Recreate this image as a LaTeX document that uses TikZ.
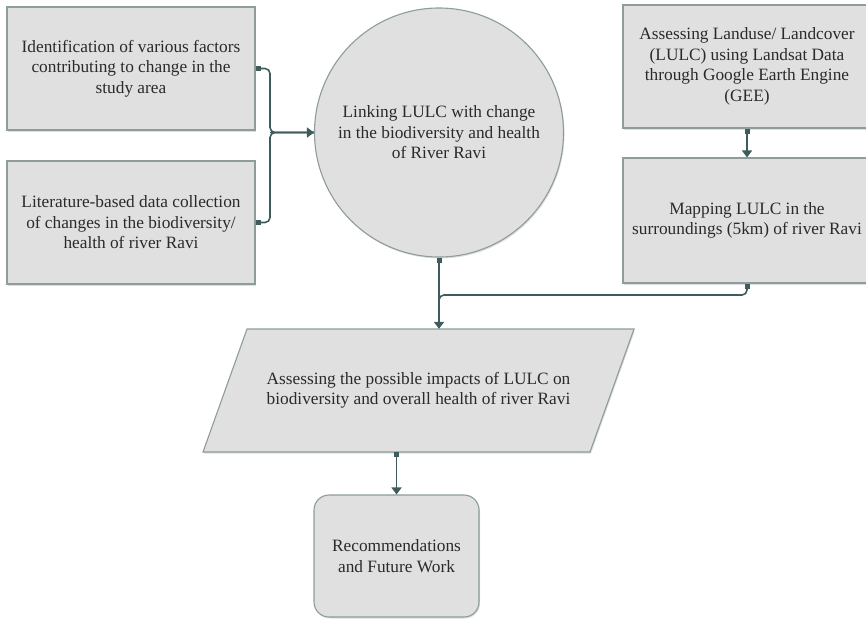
\documentclass[tikz,border=0pt]{standalone}
\usepackage{fontspec}
\setmainfont{Liberation Serif}
\usetikzlibrary{arrows.meta,shapes.geometric,shadows}
\definecolor{boxfill}{HTML}{DFE0DF}
\definecolor{boxline}{HTML}{8E9C9C}
\definecolor{conncol}{HTML}{3F5C5C}
\definecolor{txtcol}{HTML}{2A2A2A}
\tikzset{
  shade/.style={drop shadow={shadow xshift=1pt, shadow yshift=-1.5pt, opacity=0.25}},
  txt/.style={text=txtcol, align=center, font=\fontsize{17.3}{20.5}\selectfont, inner sep=0pt},
  base/.style={txt, fill=boxfill, draw=boxline, line width=1.1pt, shade},
  rbox/.style={base, rectangle, minimum width=248pt, minimum height=123pt},
  conn/.style={draw=conncol, line width=1.6pt, rounded corners=5pt,
    {Square[length=5pt,width=5pt]}-{Triangle[length=7pt,width=10pt]}},
  conl/.style={draw=conncol, line width=1.6pt, rounded corners=5pt,
    {Square[length=5pt,width=5pt]}-},
  conr/.style={draw=conncol, line width=1.6pt, -{Triangle[length=7pt,width=10pt]}}
}
\begin{document}
\begin{tikzpicture}[x=1pt,y=-1pt]
\useasboundingbox (0,0) rectangle (866,619);
\begin{scope}
\clip (0,0) rectangle (866,619);
\node[rbox] (b1) at (131,68.5) {Identification of various factors\\contributing to change in the\\study area};
\node[rbox] (b2) at (131,222.5) {Literature-based data collection\\of changes in the biodiversity/\\health of river Ravi};
\node[base, circle, minimum size=249pt] (circ) at (439,132.5) {Linking LULC with change\\in the biodiversity and health\\of River Ravi};
\node[rbox] (r1) at (747,66.5) {Assessing Landuse/ Landcover\\(LULC) using Landsat Data\\through Google Earth Engine\\(GEE)};
\node[rbox, minimum height=125pt] (r2) at (747,220.5) {Mapping LULC in the\\surroundings (5km) of river Ravi};
\fill[boxfill, draw=boxline, line width=1.1pt, shade] (247,329) -- (634,329) -- (590,452) -- (203,452) -- cycle;
\node[txt, rectangle, minimum width=431pt, minimum height=123pt] (para) at (418.5,390.5)
  {Assessing the possible impacts of LULC on\\biodiversity and overall health of river Ravi};
\node[base, rectangle, rounded corners=15pt, minimum width=165pt, minimum height=122pt] (rec) at (396.5,556)
  {Recommendations\\and Future Work};

\coordinate (J) at (270,132.5);
\coordinate (K) at (439,295);
\draw[conl] (b1.east) -| (J) -- (circ.west);
\draw[conl] (b2.east) -| (J) -- (circ.west);
\draw[conr] (J) -- (circ.west);
\draw[conn] (r1.south) -- (r2.north);
\draw[conn] (circ.south) -- (para.north -| circ.south);
\draw[conl] (r2.south) |- (K) -- ++(0,12);
\draw[conn] (para.south -| rec.north) -- (rec.north);
\end{scope}
\end{tikzpicture}
\end{document}
